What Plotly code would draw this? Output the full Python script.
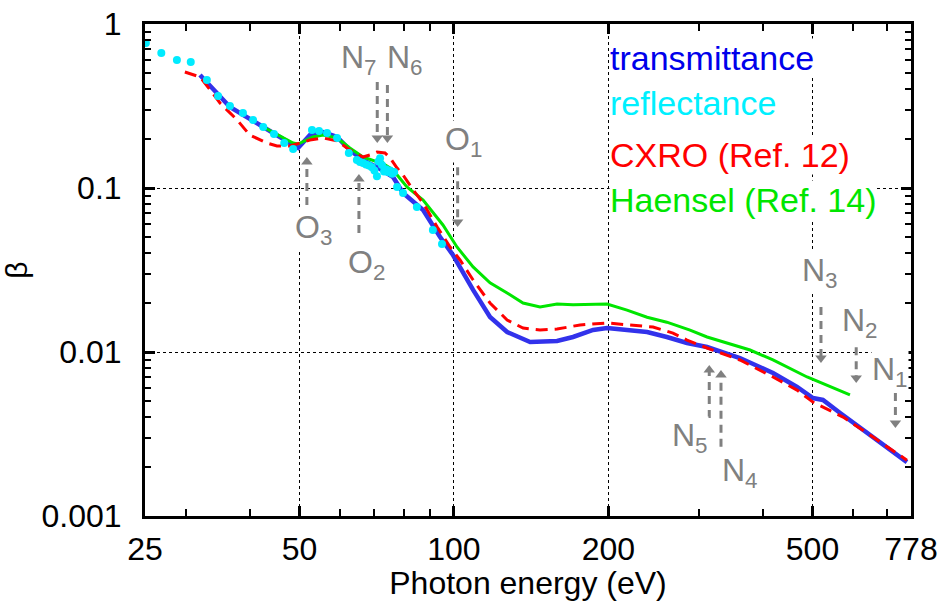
import numpy as np
import plotly.graph_objects as go

# ---------------- data ----------------
trans_E = [32.0, 36.6, 42.5, 48.6, 49.7, 52.4, 55.6, 59.2, 62.7, 66.5, 70.8, 76.1, 79.6, 87.1,
           94.0, 99.6, 109.0, 117.6, 127.0, 140.8, 158.9, 170.7, 186.8, 198.9, 217.5, 238.0,
           260.0, 284.7, 311.5, 361.0, 418.8, 466.5, 501.0, 524.0, 566.0, 656.0, 764.0]
trans_beta = [0.489, 0.312, 0.2355, 0.183, 0.1754, 0.2105, 0.2196, 0.2047, 0.1705, 0.148, 0.134,
              0.1167, 0.0933, 0.0734, 0.0503, 0.039, 0.0239, 0.01634, 0.01324, 0.0115, 0.01167,
              0.01235, 0.01362, 0.014, 0.01362, 0.01324, 0.01235, 0.01135, 0.01072, 0.00919,
              0.00745, 0.00612, 0.00524, 0.0051, 0.00425, 0.00303, 0.00213]

refl_E = [25.1, 26.9, 28.85, 30.7, 33.0, 34.7, 36.6, 38.8, 40.6, 42.5, 44.6, 46.7, 48.6, 52.9,
          54.6, 56.6, 59.2, 62.4, 64.7, 65.6, 66.5, 67.4, 68.3, 69.2, 70.0, 70.8, 71.3, 71.8,
          72.4, 73.1, 73.7, 74.4, 75.1, 75.8, 76.5, 77.5, 79.6, 84.7, 91.0, 94.8]
refl_beta = [0.766, 0.6655, 0.603, 0.5865, 0.4556, 0.364, 0.316, 0.2866, 0.26, 0.2355, 0.2135,
             0.188, 0.173, 0.226, 0.2228, 0.2164, 0.2018, 0.1634, 0.148, 0.144, 0.142, 0.139,
             0.137, 0.134, 0.128, 0.118, 0.145, 0.152, 0.138, 0.126, 0.13, 0.125, 0.128, 0.122,
             0.125, 0.1014, 0.0933, 0.0766, 0.0555, 0.0456]

cxro_E = [29.9, 32.0, 33.5, 35.0, 37.8, 40.0, 43.2, 45.2, 47.9, 50.1, 52.4, 55.6, 59.2, 62.7,
          66.5, 68.6, 70.8, 73.4, 75.1, 77.5, 79.6, 83.3, 87.1, 92.8, 98.3, 102.8, 109.0, 117.6,
          127.0, 136.4, 147.2, 158.9, 176.2, 198.9, 223.4, 244.4, 267.3, 284.7, 311.5, 361.0,
          418.8, 466.5, 501.0, 538.6, 573.6, 656.0, 764.0]
cxro_beta = [0.5096, 0.475, 0.396, 0.33, 0.26, 0.2105, 0.188, 0.1803, 0.1803, 0.188, 0.196,
             0.2018, 0.1935, 0.1705, 0.1545, 0.159, 0.1658, 0.1635, 0.1524, 0.1324, 0.12,
             0.0972, 0.081, 0.0578, 0.0437, 0.0364, 0.0275, 0.0199, 0.01567, 0.014, 0.01362,
             0.0138, 0.01462, 0.01503, 0.01462, 0.0142, 0.01305, 0.01183, 0.01058, 0.00894,
             0.00704, 0.00586, 0.00495, 0.00443, 0.00401, 0.00303, 0.00219]

haensel_E = [42.5, 48.6, 49.7, 53.1, 55.6, 59.2, 62.7, 66.5, 70.5, 71.5, 73.0, 76.1, 81.0, 87.1,
             95.2, 101.4, 109.0, 117.6, 127.0, 136.4, 147.2, 158.9, 170.7, 198.9, 217.5, 238.0,
             260.0, 288.6, 311.5, 377.8, 418.8, 488.0, 591.6]
haensel_beta = [0.2355, 0.188, 0.1854, 0.2047, 0.2105, 0.2018, 0.1754, 0.1545, 0.145, 0.154,
                0.14, 0.1288, 0.1014, 0.0845, 0.0595, 0.0437, 0.033, 0.0264, 0.0229, 0.0199,
                0.0188, 0.0196, 0.0194, 0.0196, 0.018, 0.0163, 0.0152, 0.0136, 0.01235, 0.01028,
                0.00894, 0.00704, 0.00547]

# absorption edges (Pt)
edge_names = ["O", "O", "N", "N", "O", "N", "N", "N", "N", "N"]
edge_sub = ["3", "2", "7", "6", "1", "5", "4", "3", "2", "1"]
edge_E = [51.7, 65.3, 70.9, 74.2, 101.7, 314.6, 331.6, 519.4, 608.4, 725.4]
arrow_tail = [0.0788, 0.0532, 0.443, 0.425, 0.134, 0.00396, 0.00264, 0.0188, 0.0107, 0.00562]
arrow_head = [0.144, 0.1135, 0.2018, 0.2018, 0.0621, 0.00777, 0.00724, 0.00919, 0.00694, 0.00369]
label_E = [48.7, 61.9, 60.0, 73.7, 95.6, 265.0, 331.0, 475.0, 568.0, 650.0]
label_beta = [0.0684, 0.0419, 0.744, 0.744, 0.2355, 0.00369, 0.00226, 0.0374, 0.01854, 0.00933]

legend_names = ["transmittance", "reflectance", "CXRO (Ref. 12)", "Haensel (Ref. 14)"]
legend_colors = ["rgb(0,0,235)", "rgb(0,240,255)", "rgb(255,0,0)", "rgb(0,230,0)"]
legend_E = 200.5
legend_beta = [0.621, 0.330, 0.159, 0.0845]

x_ticks = [25, 50, 100, 200, 500, 778]
y_ticks = [0.001, 0.01, 0.1, 1]

# ---------------- figure ----------------
FONT = "Liberation Sans, Arial, sans-serif"
GRAY = "rgb(128,128,128)"

fig = go.Figure()

fig.add_trace(go.Scatter(x=trans_E, y=trans_beta, mode="lines",
                         line=dict(color="rgb(50,50,235)", width=4.5), showlegend=False))
fig.add_trace(go.Scatter(x=haensel_E, y=haensel_beta, mode="lines",
                         line=dict(color="rgb(0,230,0)", width=3), showlegend=False))
fig.add_trace(go.Scatter(x=cxro_E, y=cxro_beta, mode="lines",
                         line=dict(color="rgb(255,0,0)", width=3, dash="12px,7px"),
                         showlegend=False))
fig.add_trace(go.Scatter(x=refl_E, y=refl_beta, mode="markers",
                         marker=dict(color="rgb(0,235,255)", size=8, line=dict(width=0)),
                         showlegend=False))

# edge arrows
for e, t, h in zip(edge_E, arrow_tail, arrow_head):
    fig.add_trace(go.Scatter(x=[e, e], y=[t, h], mode="lines",
                             line=dict(color=GRAY, width=3, dash="8px,6px"),
                             showlegend=False, hoverinfo="skip"))
symbols = ["triangle-up" if h > t else "triangle-down" for t, h in zip(arrow_tail, arrow_head)]
fig.add_trace(go.Scatter(x=edge_E, y=arrow_head, mode="markers",
                         marker=dict(color=GRAY, size=10, symbol=symbols, line=dict(width=0)),
                         showlegend=False, hoverinfo="skip"))

annotations = []
for n, s, e, b in zip(edge_names, edge_sub, label_E, label_beta):
    annotations.append(dict(x=np.log10(e), y=np.log10(b), xref="x", yref="y",
                            text=f"{n}<sub>{s}</sub>", showarrow=False,
                            xanchor="left", yanchor="top", yshift=7,
                            font=dict(family=FONT, size=32, color=GRAY),
                            bgcolor="white", borderpad=0))
for name, col, b in zip(legend_names, legend_colors, legend_beta):
    annotations.append(dict(x=np.log10(legend_E), y=np.log10(b), xref="x", yref="y",
                            text=name, showarrow=False, xanchor="left", yanchor="middle",
                            font=dict(family=FONT, size=34, color=col),
                            bgcolor="white", borderpad=0))

axis_common = dict(
    type="log", showline=True, linewidth=3, linecolor="black", mirror="ticks",
    ticks="inside", ticklen=10, tickwidth=3, tickcolor="black",
    showgrid=True, gridcolor="black", gridwidth=1, griddash="dot",
    zeroline=False, automargin=False,
    tickfont=dict(family=FONT, size=32, color="black"),
)

y_minor = [m * 10.0 ** d for d in (-3, -2, -1) for m in range(2, 10)]
x_minor = [30, 40, 60, 70, 80, 90, 300, 400, 600, 700]

fig.update_xaxes(**axis_common, range=[np.log10(25), np.log10(778)],
                 tickvals=x_ticks, ticktext=[str(v) for v in x_ticks],
                 ticklabelstandoff=3,
                 minor=dict(tickvals=x_minor, ticks="inside", ticklen=7, tickwidth=2,
                            tickcolor="black", showgrid=False),
                 title=dict(text="Photon energy (eV)",
                            font=dict(family=FONT, size=32, color="black"),
                            standoff=3))
fig.update_yaxes(**axis_common, range=[-3, 0],
                 tickvals=y_ticks, ticktext=["0.001", "0.01", "0.1", "1"],
                 ticklabelstandoff=14,
                 minor=dict(tickvals=y_minor, ticks="inside", ticklen=6, tickwidth=2,
                            tickcolor="black", showgrid=False),
                 title=dict(text="β", font=dict(family=FONT, size=30, color="black"),
                            standoff=8))

fig.update_layout(
    width=943, height=601,
    margin=dict(l=145, r=32, t=24, b=85),
    plot_bgcolor="white", paper_bgcolor="white",
    annotations=annotations, showlegend=False,
)

fig.write_html("out.html")
